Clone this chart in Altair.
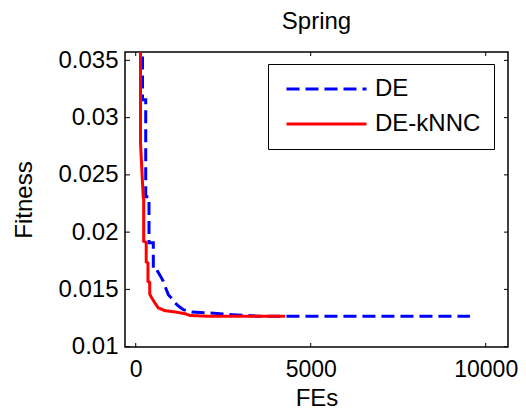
import altair as alt
import pandas as pd

# ---- data ----
de_fes = [194, 194, 286, 286, 380, 380, 503, 503, 600, 700, 789, 860, 931, 1030,
          1123, 1240, 1360, 1600, 2123, 2780, 3500, 9550]
de_fit = [0.0370, 0.03157, 0.03157, 0.0231, 0.0231, 0.01908, 0.01908, 0.01672,
          0.01672, 0.0162, 0.0157, 0.0151, 0.01454, 0.0142, 0.01382, 0.0135,
          0.01323, 0.01303, 0.01294, 0.01279, 0.012665, 0.012665]

knn_fes = [137, 137, 215, 228, 228, 300, 300, 350, 350, 400, 400, 450, 551, 646,
           837, 1123, 1409, 1551, 2000, 4270]
knn_fit = [0.0370, 0.0278, 0.0230, 0.0229, 0.0192, 0.0191, 0.0174, 0.0173, 0.0157,
           0.0156, 0.0146, 0.0143, 0.0138, 0.01338, 0.01314, 0.01303, 0.01288,
           0.01272, 0.012665, 0.012665]

series_names = ["DE", "DE-kNNC"]
series_colors = ["#0000ff", "#ff0000"]
x_ticks = [0, 5000, 10000]
y_ticks = [0.01, 0.015, 0.02, 0.025, 0.03, 0.035]

x_domain = [-306, 10637]
y_domain = [0.00997, 0.03573]

W, H = 383, 295
FONT = "Liberation Sans"

rows = []
for i, (fx, fy) in enumerate(zip(de_fes, de_fit)):
    rows.append({"series": "DE", "FEs": fx, "Fitness": fy, "ord": i})
for i, (fx, fy) in enumerate(zip(knn_fes, knn_fit)):
    rows.append({"series": "DE-kNNC", "FEs": fx, "Fitness": fy, "ord": i})
df = pd.DataFrame(rows)

xs = alt.Scale(domain=x_domain, nice=False, zero=False)
ys = alt.Scale(domain=y_domain, nice=False, zero=False)

axis_style = dict(labelFont=FONT, labelColor="black",
                  titleFont=FONT, titleFontSize=24, titleFontWeight="normal",
                  titleColor="black", grid=False, ticks=False, domain=False,
                  labelOverlap=False, labelBound=False, labelFlush=False)
x_axis = alt.Axis(values=x_ticks, format="d", title="FEs", labelFontSize=23,
                  labelPadding=11, titlePadding=5, **axis_style)
y_axis = alt.Axis(values=y_ticks, format=".3~f", title="Fitness", labelFontSize=24,
                  labelPadding=7, titlePadding=21, **axis_style)

legend = alt.Legend(
    title=None, orient="none", legendX=143, legendY=12,
    strokeColor="black", fillColor="white", padding=13,
    labelFont=FONT, labelFontSize=24, labelColor="black",
    symbolType="stroke", symbolSize=6400, symbolStrokeWidth=3, symbolOffset=4,
    clipHeight=24, rowPadding=11, labelOffset=7, labelLimit=300,
)

lines = alt.Chart(df).mark_line(clip=True, strokeWidth=3).encode(
    x=alt.X("FEs:Q", scale=xs, axis=x_axis),
    y=alt.Y("Fitness:Q", scale=ys, axis=y_axis),
    color=alt.Color("series:N", scale=alt.Scale(domain=series_names, range=series_colors),
                    legend=legend),
    strokeDash=alt.StrokeDash("series:N", scale=alt.Scale(domain=series_names,
                              range=[[13, 6], [1, 0]]), legend=legend),
    order="ord:Q",
)

xt = pd.DataFrame({"FEs": x_ticks})
yt = pd.DataFrame({"Fitness": y_ticks})

def xrule(y1, y2):
    return alt.Chart(xt).mark_rule(color="black", strokeWidth=1).encode(
        x=alt.X("FEs:Q", scale=xs, axis=x_axis), y=alt.value(y1), y2=alt.value(y2))

def yrule(x1, x2):
    return alt.Chart(yt).mark_rule(color="black", strokeWidth=1).encode(
        y=alt.Y("Fitness:Q", scale=ys, axis=y_axis), x=alt.value(x1), x2=alt.value(x2))

chart = alt.layer(
    lines, xrule(H, H - 4), xrule(0, 4), yrule(0, 5), yrule(W, W - 4)
).properties(
    width=W, height=H,
    title=alt.TitleParams("Spring", font=FONT, fontSize=24, fontWeight="normal",
                          color="black", anchor="middle", frame="group",
                          baseline="alphabetic", offset=-5),
    autosize=alt.AutoSizeParams(type="none"),
    padding={"left": 117, "top": 44, "right": 10, "bottom": 63},
).configure(
    background="white"
).configure_view(
    stroke="black", strokeWidth=1.5
)

chart.save("out.html", embed_options={"renderer": "svg", "actions": False})
